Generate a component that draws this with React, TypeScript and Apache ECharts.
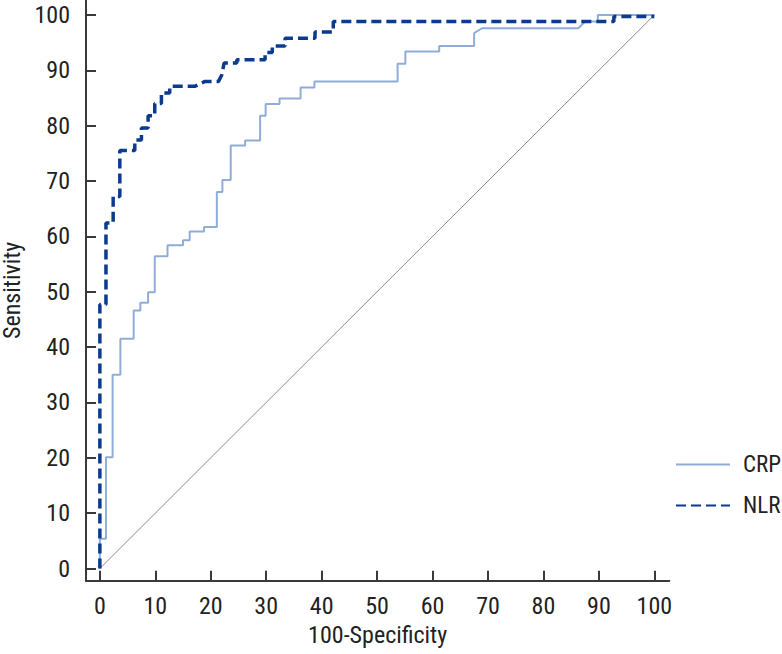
import React, { useEffect, useRef } from "react";
import * as echarts from "echarts";

const tickValues = [0, 10, 20, 30, 40, 50, 60, 70, 80, 90, 100];

const crpFpr = [0, 0, 1.1, 1.1, 2.3, 2.3, 3.7, 3.7, 6.1, 6.1, 7.3, 7.3, 8.7, 8.7, 9.9, 9.9, 12.2, 12.2, 15, 15, 16.2, 16.2, 18.8, 18.8, 21.1, 21.1, 22.1, 22.1, 23.6, 23.6, 26.2, 26.2, 28.9, 28.9, 29.9, 29.9, 32.4, 32.4, 36.2, 36.2, 38.7, 38.7, 53.7, 53.7, 55.1, 55.1, 61.2, 61.2, 67.5, 67.5, 68.9, 86.3, 87.5, 89.8, 89.8, 100];
const crpTpr = [0, 5.4, 5.4, 20.1, 20.1, 35, 35, 41.5, 41.5, 46.6, 46.6, 48, 48, 49.9, 49.9, 56.4, 56.4, 58.4, 58.4, 59.3, 59.3, 60.9, 60.9, 61.7, 61.7, 68, 68, 70.2, 70.2, 76.4, 76.4, 77.3, 77.3, 81.8, 81.8, 83.9, 83.9, 84.9, 84.9, 86.9, 86.9, 88, 88, 91.2, 91.2, 93.4, 93.4, 94.4, 94.4, 96.7, 97.6, 97.6, 98.8, 98.8, 100, 100];

const nlrFpr = [0, 0, 1.1, 1.1, 2.4, 2.4, 3.6, 3.6, 6.3, 6.3, 7.5, 7.5, 8.7, 8.7, 9.9, 9.9, 11.1, 11.1, 12.6, 12.6, 17.1, 19, 21.4, 22.0, 22.4, 24.7, 24.7, 29.8, 29.8, 31.1, 31.1, 33.4, 33.4, 38.8, 38.8, 42.1, 42.1, 92.7, 92.7, 100];
const nlrTpr = [0, 47.7, 47.7, 62.4, 62.4, 67.2, 67.2, 75.5, 75.5, 77.4, 77.4, 79.6, 79.6, 81.8, 81.8, 84, 84, 85.9, 85.9, 87.1, 87.1, 88, 88, 89.2, 91.3, 91.3, 91.9, 91.9, 93.2, 93.2, 94.4, 94.4, 95.8, 95.8, 96.9, 96.9, 98.8, 98.8, 99.7, 99.7];

const refX = [0, 100];
const refY = [0, 100];

const FONT = "'Roboto Condensed', 'Liberation Sans Narrow', 'Arial Narrow', 'DejaVu Sans Condensed', sans-serif";

const zip = (xs: number[], ys: number[]) => xs.map((x, i) => [x, ys[i]]);

export default function App() {
  const ref = useRef<HTMLDivElement>(null);
  useEffect(() => {
    if (!ref.current) return;
    const chart = echarts.init(ref.current, undefined, { renderer: "svg" });
    const axisColor = "#3a3a3a";
    chart.setOption({
      animation: false,
      backgroundColor: "#ffffff",
      textStyle: { fontFamily: FONT },
      grid: { left: 86, top: 0, right: 112.7, bottom: 73.3, containLabel: false, outerBoundsMode: "none" },
      legend: {
        orient: "vertical",
        left: 670,
        top: 448,
        data: ["CRP", "NLR"],
        itemWidth: 54,
        itemHeight: 20,
        itemGap: 18,
        itemStyle: { opacity: 0 },
        textStyle: { fontFamily: FONT, fontSize: 23, color: "#222", lineHeight: 20, padding: [0, 0, 0, 8] },
      },
      xAxis: {
        type: "value",
        min: -2.5,
        max: 102.7,
        name: "100-Specificity",
        nameLocation: "middle",
        nameGap: 40,
        nameTextStyle: { fontFamily: FONT, fontSize: 24, color: "#222" },
        axisLine: { show: true, onZero: false, lineStyle: { color: axisColor, width: 2 } },
        axisTick: { show: true, inside: true, length: 10, customValues: tickValues, lineStyle: { color: axisColor, width: 2 } },
        axisLabel: { customValues: tickValues, fontFamily: FONT, fontSize: 24, color: "#222", margin: 13 },
        splitLine: { show: false },
      },
      yAxis: {
        type: "value",
        min: -2.2,
        max: 102.7,
        name: "Sensitivity",
        nameLocation: "middle",
        nameGap: 52,
        nameTextStyle: { fontFamily: FONT, fontSize: 24, color: "#222", lineHeight: 24 },
        axisLine: { show: true, onZero: false, lineStyle: { color: axisColor, width: 2 } },
        axisTick: { show: true, inside: true, length: 10, customValues: tickValues, lineStyle: { color: axisColor, width: 2 } },
        axisLabel: { customValues: tickValues, fontFamily: FONT, fontSize: 24, color: "#222", margin: 16 },
        splitLine: { show: false },
      },
      series: [
        {
          name: "Reference",
          type: "line",
          data: zip(refX, refY),
          symbol: "none",
          lineStyle: { color: "#8a8a8a", width: 1 },
          silent: true,
        },
        {
          name: "CRP",
          type: "line",
          data: zip(crpFpr, crpTpr),
          symbol: "none",
          color: "#90acd9",
          lineStyle: { color: "#90acd9", width: 2 },
        },
        {
          name: "NLR",
          type: "line",
          data: zip(nlrFpr, nlrTpr),
          symbol: "none",
          color: "#0b3b8f",
          lineStyle: { color: "#0b3b8f", width: 3.5, type: [10, 5] },
        },
      ],
    });
    return () => chart.dispose();
  }, []);
  return <div ref={ref} style={{ position: "absolute", left: 0, top: 0, width: 782, height: 654 }} />;
}
